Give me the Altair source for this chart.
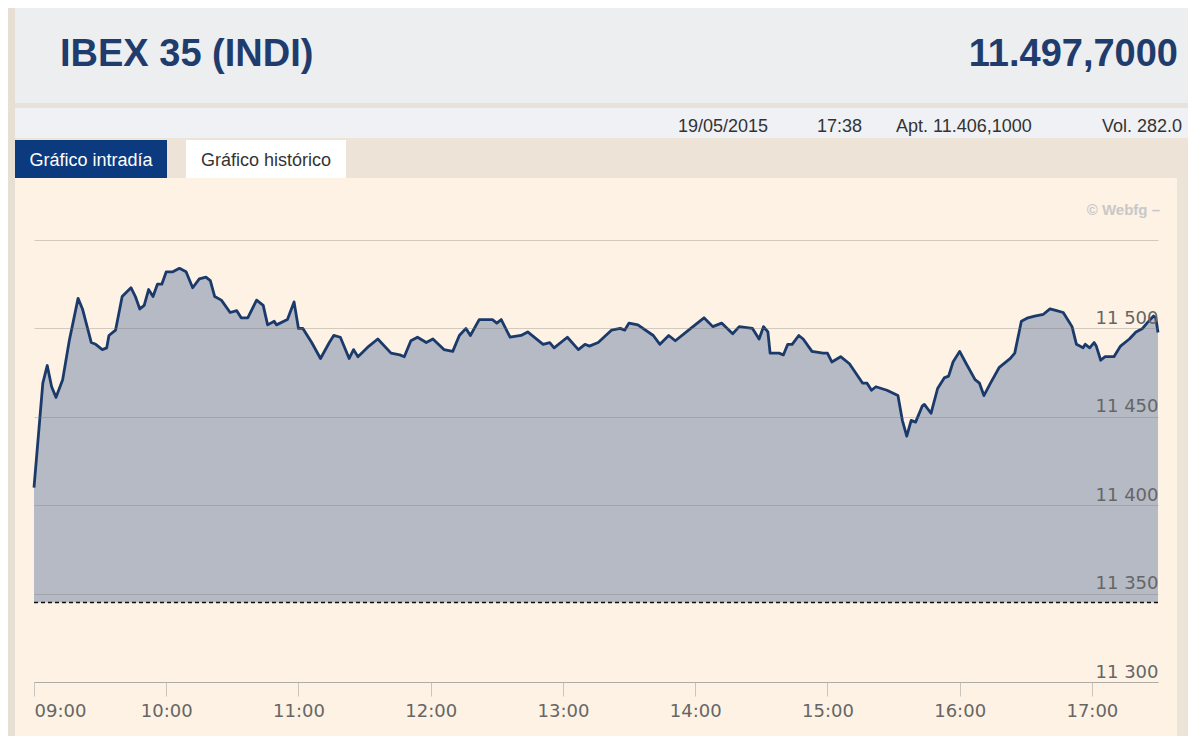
import altair as alt
import pandas as pd

# ---------------- data ----------------
times = [
    "09:00", "09:04", "09:06", "09:08", "09:10", "09:13", "09:16", "09:20", "09:22", "09:26",
    "09:28", "09:31", "09:33", "09:34", "09:37", "09:40", "09:44", "09:46", "09:48", "09:50",
    "09:52", "09:54", "09:56", "09:58", "10:00", "10:03", "10:06", "10:09", "10:12", "10:15",
    "10:18", "10:20", "10:22", "10:25", "10:29", "10:32", "10:34", "10:37", "10:41", "10:44",
    "10:46", "10:49", "10:50", "10:55", "10:58", "11:00", "11:02", "11:06", "11:10", "11:14",
    "11:16", "11:19", "11:23", "11:25", "11:27", "11:32", "11:36", "11:42", "11:46", "11:48",
    "11:51", "11:54", "11:58", "12:01", "12:06", "12:10", "12:13", "12:16", "12:18", "12:22",
    "12:25", "12:28", "12:30", "12:32", "12:36", "12:41", "12:44", "12:51", "12:54", "12:56",
    "13:02", "13:07", "13:10", "13:12", "13:16", "13:22", "13:26", "13:28", "13:30", "13:34",
    "13:41", "13:44", "13:48", "13:51", "13:58", "14:04", "14:08", "14:12", "14:17", "14:20",
    "14:26", "14:29", "14:31", "14:33", "14:34", "14:38", "14:40", "14:42", "14:44", "14:47",
    "14:49", "14:53", "14:58", "15:00", "15:02", "15:06", "15:10", "15:16", "15:18", "15:20",
    "15:22", "15:27", "15:32", "15:34", "15:36", "15:38", "15:40", "15:43", "15:44", "15:47",
    "15:50", "15:53", "15:55", "15:57", "16:00", "16:03", "16:07", "16:09", "16:11", "16:14",
    "16:18", "16:23", "16:25", "16:28", "16:31", "16:34", "16:38", "16:41", "16:44", "16:47",
    "16:51", "16:53", "16:56", "16:57", "16:59", "17:01", "17:02", "17:04", "17:06", "17:10",
    "17:13", "17:17", "17:20", "17:23", "17:25", "17:28", "17:29", "17:30",
]
values = [
    11410, 11469, 11479, 11467, 11461, 11471, 11493, 11517, 11511, 11492,
    11491, 11488, 11489, 11496, 11499, 11518, 11523, 11518, 11511, 11513,
    11522, 11518, 11525, 11525, 11532, 11532, 11534, 11532, 11523, 11528,
    11529, 11527, 11518, 11516, 11509, 11510, 11506, 11506, 11516, 11513,
    11502, 11504, 11502, 11505, 11515, 11500, 11500, 11492, 11483, 11492,
    11496, 11495, 11483, 11488, 11484, 11490, 11494, 11486, 11485, 11484,
    11493, 11495, 11492, 11494, 11488, 11487, 11496, 11500, 11496, 11505,
    11505, 11505, 11503, 11505, 11495, 11496, 11498, 11491, 11492, 11489,
    11495, 11488, 11491, 11490, 11492, 11499, 11500, 11499, 11503, 11502,
    11496, 11491, 11496, 11493, 11500, 11506, 11501, 11503, 11497, 11501,
    11500, 11494, 11501, 11498, 11486, 11486, 11485, 11491, 11491, 11496,
    11494, 11487, 11486, 11486, 11481, 11484, 11480, 11469, 11469, 11465,
    11467, 11465, 11462, 11448, 11439, 11448, 11447, 11456, 11457, 11452,
    11466, 11472, 11473, 11481, 11487, 11480, 11471, 11469, 11462, 11469,
    11478, 11483, 11486, 11504, 11506, 11507, 11508, 11511, 11510, 11509,
    11501, 11491, 11489, 11491, 11489, 11492, 11490, 11482, 11484, 11484,
    11490, 11494, 11498, 11500, 11503, 11507, 11506, 11497.7,
]
prev_close = 11345
y_ticks = [11300, 11350, 11400, 11450, 11500, 11550]
x_tick_hours = [9, 10, 11, 12, 13, 14, 15, 16, 17]
session_date = "2015-05-19"

title_text = "IBEX 35 (INDI)"
last_price = "11.497,7000"
info_items = ["19/05/2015", "17:38", "Apt. 11.406,1000", "Vol. 282.0"]
tab_labels = ["Gráfico intradía", "Gráfico histórico"]
credit = "© Webfg –"

# ---------------- build ----------------
df = pd.DataFrame({"time": [session_date + "T" + t + ":00" for t in times], "value": values})
one = pd.DataFrame({"k": [0]})

W, H = 1124, 442
CREAM = "#fdf2e3"
NAVY = "#1b3a6c"


def dt(h, m=0):
    return alt.DateTime(year=2015, month=5, date=19, hours=h, minutes=m)


def box(x0, x1, y0, y1, color):
    return alt.Chart(one).mark_rect(color=color).encode(
        x=alt.value(x0), x2=alt.value(x1), y=alt.value(y0), y2=alt.value(y1)
    )


def label(text, x, y, size, color, weight="normal", align="left", font="Liberation Sans"):
    return alt.Chart(one).mark_text(
        text=text, fontSize=size, color=color, fontWeight=weight,
        align=align, baseline="alphabetic", font=font,
    ).encode(x=alt.value(x), y=alt.value(y))


decor = [
    box(-26, -19, -232, 500, "#e8dfd4"),      # left strip
    box(1143, 1160, -232, 500, "#ede4d8"),    # right strip
    box(-19, 1160, -232, -137, "#eceef0"),    # header
    box(-19, 1160, -137, -132, "#e7e2da"),    # separator
    box(-19, 1160, -132, -102, "#eff1f4"),    # info row
    box(-19, 1160, -102, -62, "#ede3d6"),     # tab row
    box(-19, 133, -100, -62, "#0b3a7e"),      # active tab
    box(152, 312, -100, -62, "#ffffff"),      # inactive tab
]

texts = [
    label(title_text, 26, -174, 38, "#1f3c6c", weight="bold"),
    label(last_price, 1144, -174, 38, "#1f3c6c", weight="bold", align="right"),
    label(info_items[0], 644, -108, 18, "#333333"),
    label(info_items[1], 783, -108, 18, "#333333"),
    label(info_items[2], 862, -108, 18, "#333333"),
    label(info_items[3], 1068, -108, 18, "#333333"),
    label(tab_labels[0], 57, -74, 18, "#ffffff", align="center"),
    label(tab_labels[1], 232, -74, 18, "#333333", align="center"),
    label(credit, 1126, -25, 15, "#c8c8c8", weight="bold", align="right"),
]

x_enc = alt.X(
    "time:T",
    scale=alt.Scale(domain=[dt(9), dt(17, 30)]),
    axis=alt.Axis(
        values=[dt(h) for h in x_tick_hours], format="%H:%M", grid=False,
        domainColor="#c9c5bf", tickColor="#c9c5bf", tickSize=14,
        labelPadding=20, labelBaseline="alphabetic", labelFlush=True, title=None,
    ),
)
y_enc = alt.Y(
    "value:Q",
    scale=alt.Scale(domain=[y_ticks[0], y_ticks[-1]], nice=False, zero=False),
    axis=alt.Axis(
        orient="right", values=y_ticks, grid=True, gridColor="#7a7670", gridOpacity=0.32,
        domain=False, ticks=False, tickSize=0, labelAlign="right", labelPadding=0,
        labelBaseline="alphabetic", labelOffset=-5, title=None, zindex=1,
        labelExpr=f"datum.value == {y_ticks[-1]} ? '' : replace(format(datum.value, ','), ',', ' ')",
    ),
)

area = alt.Chart(df).mark_area(color="#b5bac5").encode(
    x=x_enc, y=y_enc, y2=alt.datum(prev_close)
)
line = alt.Chart(df).mark_line(color=NAVY, strokeWidth=2.8, strokeJoin="round").encode(
    x="time:T", y="value:Q"
)
rule = alt.Chart(one).mark_rule(color="#111111", strokeDash=[4, 3], strokeWidth=1.5).encode(
    y=alt.datum(prev_close)
)

chart = alt.layer(*decor, area, rule, line, *texts).properties(
    width=W, height=H,
    autosize=alt.AutoSizeParams(type="none"),
    padding={"left": 26, "top": 232, "right": 30, "bottom": 54},
    background=CREAM,
).configure_view(stroke=None).configure_axis(
    labelFont="DejaVu Sans", labelFontSize=18, labelColor="#666666"
)

chart.save("out.html", embed_options={"renderer": "svg", "actions": False})
